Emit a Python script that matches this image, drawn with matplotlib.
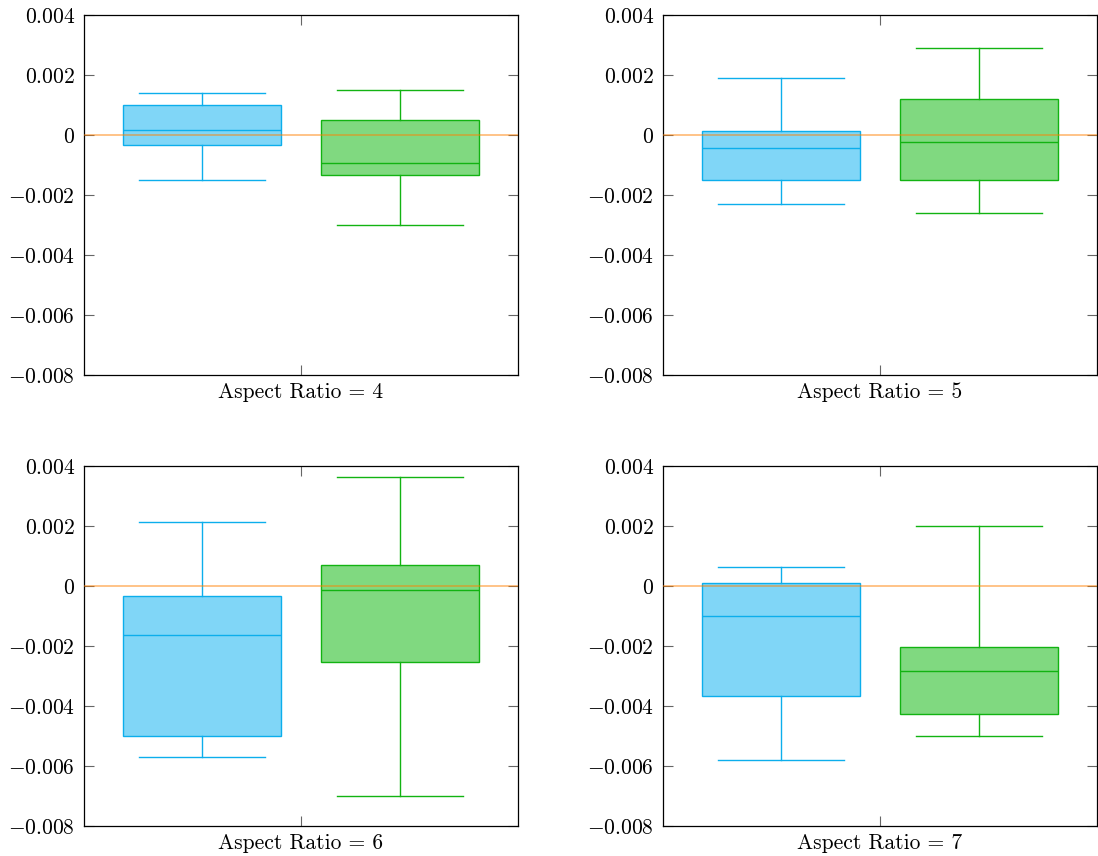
import matplotlib.pyplot as plt

plt.rcParams['font.family'] = 'serif'
plt.rcParams['font.serif'] = ['cmr10']
plt.rcParams['mathtext.fontset'] = 'cm'
plt.rcParams['axes.formatter.use_mathtext'] = True

# five-number summaries per aspect ratio: whisker low, Q1, median, Q3, whisker high
ratios = [4, 5, 6, 7]

blue_low = [-1.49e-3, -2.29e-3, -5.69e-3, -5.80e-3]
blue_q1 = [-0.34e-3, -1.49e-3, -4.99e-3, -3.68e-3]
blue_med = [0.16e-3, -0.44e-3, -1.63e-3, -0.99e-3]
blue_q3 = [1.01e-3, 0.15e-3, -0.33e-3, 0.11e-3]
blue_high = [1.41e-3, 1.91e-3, 2.12e-3, 0.62e-3]

green_low = [-2.99e-3, -2.59e-3, -6.99e-3, -4.99e-3]
green_q1 = [-1.34e-3, -1.49e-3, -2.53e-3, -4.28e-3]
green_med = [-0.94e-3, -0.24e-3, -0.13e-3, -2.84e-3]
green_q3 = [0.50e-3, 1.20e-3, 0.71e-3, -2.04e-3]
green_high = [1.51e-3, 2.91e-3, 3.63e-3, 2.00e-3]

ytick_vals = [0.004, 0.002, 0, -0.002, -0.004, -0.006, -0.008]
ytick_labels = ['$0.004$', '$0.002$', '$0$', '$-0.002$', '$-0.004$', '$-0.006$', '$-0.008$']

BLUE_EDGE, BLUE_FACE = '#0caeec', '#80d6f7'
GREEN_EDGE, GREEN_FACE = '#12b312', '#80d980'
ORANGE = '#ff8000'

fig = plt.figure(figsize=(10.98, 8.56), dpi=100)

# axes rectangles in figure fractions (left, bottom, width, height)
rects = [
    (84 / 1098, 1 - 375 / 856, 434 / 1098, 360 / 856),
    (663 / 1098, 1 - 375 / 856, 434 / 1098, 360 / 856),
    (84 / 1098, 1 - 826 / 856, 434 / 1098, 360 / 856),
    (663 / 1098, 1 - 826 / 856, 434 / 1098, 360 / 856),
]


def stats(low, q1, med, q3, high):
    return dict(whislo=low, q1=q1, med=med, q3=q3, whishi=high, fliers=[])


for i, r in enumerate(ratios):
    ax = fig.add_axes(rects[i])
    for pos, edge, face, st in [
        (1, BLUE_EDGE, BLUE_FACE,
         stats(blue_low[i], blue_q1[i], blue_med[i], blue_q3[i], blue_high[i])),
        (2, GREEN_EDGE, GREEN_FACE,
         stats(green_low[i], green_q1[i], green_med[i], green_q3[i], green_high[i])),
    ]:
        bp = ax.bxp([st], positions=[pos], widths=0.8, capwidths=0.64,
                    patch_artist=True, showfliers=False)
        for b in bp['boxes']:
            b.set_facecolor(face)
            b.set_edgecolor(edge)
            b.set_linewidth(1.0)
        for key in ['whiskers', 'caps', 'medians']:
            for ln in bp[key]:
                ln.set_color(edge)
                ln.set_linewidth(1.0)

    ax.axhline(0, color=ORANGE, alpha=0.55, lw=1.2, zorder=5)

    ax.set_xlim(0.4, 2.6)
    ax.set_ylim(-0.008, 0.004)
    ax.set_yticks(ytick_vals)
    ax.set_yticklabels(ytick_labels)
    ax.set_xticks([1.5])
    ax.set_xticklabels([f'Aspect Ratio = {r}'])
    ax.tick_params(direction='in', length=7, width=0.8, color='#666666',
                   labelsize=15.5, top=True, right=True)
    ax.tick_params(axis='y', pad=6.5)
    ax.tick_params(axis='x', pad=5.5)
    for sp in ax.spines.values():
        sp.set_linewidth(0.9)
        sp.set_color('black')

fig.savefig('out.png', dpi=100)
